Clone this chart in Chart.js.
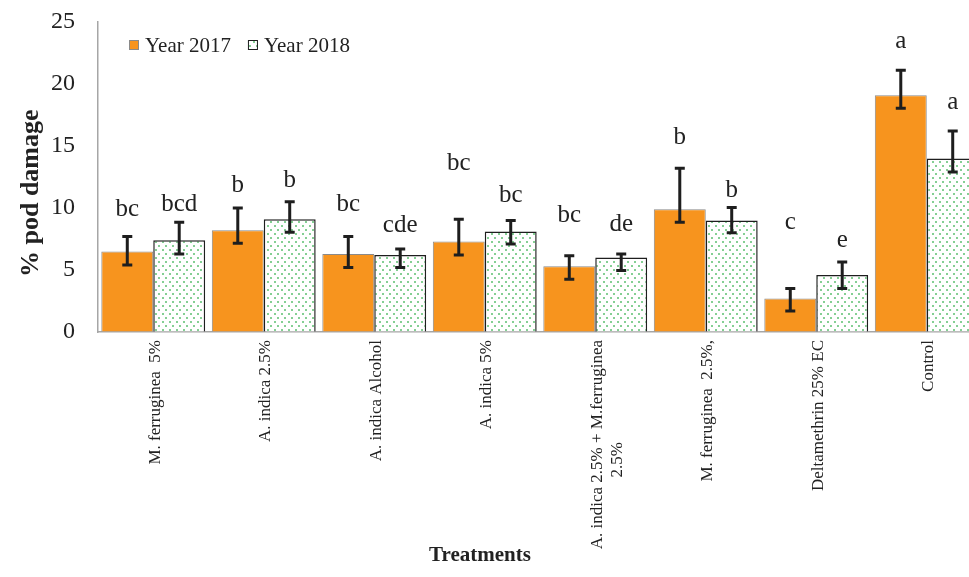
<!DOCTYPE html>
<html>
<head>
<meta charset="utf-8">
<script src="https://cdn.jsdelivr.net/npm/chart.js@4.4.0/dist/chart.umd.min.js"></script>
<style>
  html, body { margin: 0; padding: 0; background: #fff; overflow: hidden; }
  #wrap { width: 990px; height: 577px; }
</style>
</head>
<body>
<div id="wrap"><canvas id="podChart" width="990" height="577"></canvas></div>
<script>
// treatments (x axis)
const treatments = [
  'M. ferruginea  5%',
  'A. indica 2.5%',
  'A. indica Alcohol',
  'A. indica 5%',
  ['A. indica 2.5% + M.ferruginea', '2.5%                        '],
  'M. ferruginea  2.5%,',
  'Deltamethrin 25% EC',
  'Control'
];

// % pod damage
const damage2017 = [6.5, 8.2, 6.3, 7.3, 5.3, 9.9, 2.7, 19.1];
const damage2018 = [7.4, 9.1, 6.2, 8.1, 6.0, 9.0, 4.6, 14.0];

// error bar extents (above / below the bar top)
const errUp2017   = [1.2, 1.8, 1.4, 1.8, 0.85, 3.3, 0.8, 2.0];
const errDown2017 = [1.1, 1.05, 1.1, 1.1, 1.05, 1.05, 1.0, 1.05];
const errUp2018   = [1.45, 1.4, 0.5, 0.9, 0.3, 1.05, 1.05, 2.2];
const errDown2018 = [1.1, 1.05, 1.0, 1.0, 1.05, 1.0, 1.1, 1.1];

// significance letters and the level (in %) they sit at
const letters2017 = ['bc', 'b', 'bc', 'bc', 'bc', 'b', 'c', 'a'];
const letters2018 = ['bcd', 'b', 'cde', 'bc', 'de', 'b', 'e', 'a'];
const letterAt2017 = [9.85, 11.85, 10.3, 13.6, 9.4, 15.7, 8.8, 23.4];
const letterAt2018 = [10.3, 12.25, 8.6, 11.0, 8.7, 11.45, 7.4, 18.5];

const yMin = 0, yMax = 25, yStep = 5;

const serif = '"Liberation Serif", "Times New Roman", serif';

// dotted fill for 2018 bars
function dotPattern() {
  const c = document.createElement('canvas');
  c.width = 7; c.height = 8;
  const g = c.getContext('2d');
  g.fillStyle = '#ffffff';
  g.fillRect(0, 0, 7, 8);
  g.fillStyle = '#85cf94';
  g.fillRect(1, 1, 2, 2);
  g.fillRect(4, 5, 2, 2);
  return g.createPattern(c, 'repeat');
}
const dots = dotPattern();

const extras = {
  id: 'extras',
  afterDatasetsDraw(chart) {
    const ctx = chart.ctx;
    const y = chart.scales.y;
    chart.data.datasets.forEach((ds, di) => {
      const meta = chart.getDatasetMeta(di);
      meta.data.forEach((bar, i) => {
        const v = ds.data[i];
        const top = y.getPixelForValue(v + ds.errUp[i]);
        const bot = y.getPixelForValue(v - ds.errDown[i]);
        ctx.save();
        ctx.strokeStyle = '#1e1e1e';
        ctx.lineWidth = 3;
        ctx.beginPath();
        ctx.moveTo(bar.x, top); ctx.lineTo(bar.x, bot);
        ctx.moveTo(bar.x - 5, top); ctx.lineTo(bar.x + 5, top);
        ctx.moveTo(bar.x - 5, bot); ctx.lineTo(bar.x + 5, bot);
        ctx.stroke();
        ctx.fillStyle = '#222';
        ctx.font = '25px ' + serif;
        ctx.textAlign = 'center';
        ctx.textBaseline = 'middle';
        ctx.fillText(ds.letters[i], bar.x, y.getPixelForValue(ds.letterAt[i]));
        ctx.restore();
      });
    });
  },
  afterDraw(chart) {
    const ctx = chart.ctx;
    const area = chart.chartArea;
    ctx.save();
    // legend
    let lx = area.left + 31;
    const ly = area.top + 23;
    ctx.font = '21px ' + serif;
    ctx.textBaseline = 'middle';
    ctx.textAlign = 'left';
    chart.data.datasets.forEach((ds) => {
      ctx.fillStyle = ds.backgroundColor;
      ctx.fillRect(lx, ly - 5, 10, 10);
      ctx.strokeStyle = ds.borderColor;
      ctx.lineWidth = 1;
      ctx.strokeRect(lx + 0.5, ly - 4.5, 9, 9);
      ctx.fillStyle = '#222';
      ctx.fillText(ds.label, lx + 16, ly + 1);
      lx += 16 + ctx.measureText(ds.label).width + 17;
    });
    // x axis title
    ctx.font = 'bold 21px ' + serif;
    ctx.textAlign = 'center';
    ctx.fillStyle = '#222';
    ctx.fillText('Treatments', 480, 556);
    ctx.restore();
  }
};

new Chart(document.getElementById('podChart'), {
  type: 'bar',
  data: {
    labels: treatments,
    datasets: [
      {
        label: 'Year 2017',
        data: damage2017,
        errUp: errUp2017, errDown: errDown2017,
        letters: letters2017, letterAt: letterAt2017,
        backgroundColor: '#f7941e',
        borderColor: '#8a8a8a',
        borderWidth: 1
      },
      {
        label: 'Year 2018',
        data: damage2018,
        errUp: errUp2018, errDown: errDown2018,
        letters: letters2018, letterAt: letterAt2018,
        backgroundColor: dots,
        borderColor: '#1e1e1e',
        borderWidth: 1.5
      }
    ]
  },
  options: {
    responsive: false,
    animation: false,
    layout: { padding: { top: 22, right: 8, left: 0, bottom: 0 } },
    datasets: { bar: { categoryPercentage: 0.94, barPercentage: 1.0 } },
    plugins: { legend: { display: false }, tooltip: { enabled: false } },
    scales: {
      x: {
        afterFit(scale) { scale.height = 245; },
        grid: { drawOnChartArea: false, drawTicks: false },
        border: { color: '#a6a6a6', width: 1.5 },
        ticks: {
          autoSkip: false, minRotation: 90, maxRotation: 90,
          padding: 8, labelOffset: 2, color: '#222',
          font: { family: serif, size: 17 }
        }
      },
      y: {
        min: yMin, max: yMax,
        afterFit(scale) {
          scale.width = 98;
          scale.paddingTop = 0;
          scale.paddingBottom = 0;
        },
        grid: { drawOnChartArea: false, drawTicks: false },
        border: { color: '#a6a6a6', width: 1.5 },
        ticks: { stepSize: yStep, padding: 23, color: '#222', font: { family: serif, size: 24 } },
        title: {
          display: true, text: '% pod damage     ', color: '#222',
          font: { family: serif, size: 26, weight: 'bold' },
          padding: { top: 16, bottom: 0 }
        }
      }
    }
  },
  plugins: [extras]
});
</script>
</body>
</html>
